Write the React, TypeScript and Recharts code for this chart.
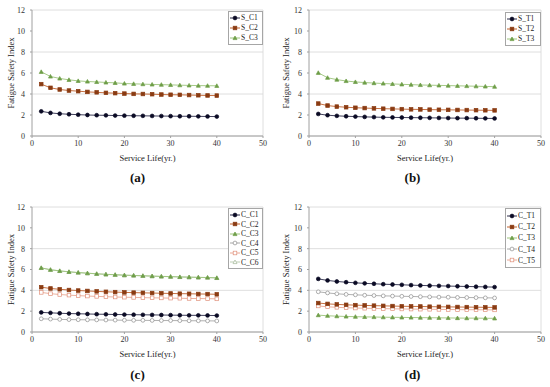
import { CartesianGrid, Legend, Line, LineChart, ReferenceLine, XAxis, YAxis } from 'recharts';

// Service life (yr.) — shared x values for every panel
const YEARS = [2, 4, 6, 8, 10, 12, 14, 16, 18, 20, 22, 24, 26, 28, 30, 32, 34, 36, 38, 40];
const X_TICKS = [0, 10, 20, 30, 40, 50];
const Y_TICKS = [0, 2, 4, 6, 8, 10, 12];

// (a) steel, compression
const S_C1 = [2.35, 2.2, 2.12, 2.07, 2.03, 2.0, 1.98, 1.97, 1.95, 1.94, 1.93, 1.92, 1.91, 1.9, 1.89, 1.88, 1.88, 1.87, 1.86, 1.85];
const S_C2 = [4.94, 4.59, 4.43, 4.33, 4.27, 4.2, 4.16, 4.11, 4.08, 4.04, 4.01, 4.0, 3.98, 3.95, 3.93, 3.92, 3.9, 3.88, 3.86, 3.85];
const S_C3 = [6.11, 5.67, 5.48, 5.35, 5.25, 5.19, 5.15, 5.1, 5.06, 5.0, 4.97, 4.94, 4.91, 4.89, 4.87, 4.84, 4.82, 4.8, 4.79, 4.78];

// (b) steel, tension
const S_T1 = [2.1, 1.98, 1.92, 1.88, 1.85, 1.82, 1.8, 1.78, 1.77, 1.76, 1.75, 1.74, 1.73, 1.72, 1.71, 1.7, 1.7, 1.69, 1.68, 1.67];
const S_T2 = [3.09, 2.9, 2.8, 2.74, 2.69, 2.66, 2.63, 2.6, 2.58, 2.56, 2.54, 2.53, 2.51, 2.5, 2.49, 2.48, 2.47, 2.46, 2.45, 2.44];
const S_T3 = [6.02, 5.55, 5.37, 5.24, 5.15, 5.09, 5.04, 5.0, 4.96, 4.92, 4.89, 4.86, 4.84, 4.82, 4.8, 4.78, 4.76, 4.74, 4.72, 4.7];

// (c) concrete, compression
const C_C1 = [1.88, 1.84, 1.8, 1.77, 1.75, 1.73, 1.71, 1.7, 1.68, 1.67, 1.66, 1.65, 1.64, 1.63, 1.62, 1.61, 1.6, 1.6, 1.59, 1.58];
const C_C2 = [4.3, 4.18, 4.1, 4.03, 3.98, 3.94, 3.9, 3.86, 3.83, 3.8, 3.78, 3.76, 3.74, 3.72, 3.7, 3.68, 3.67, 3.65, 3.64, 3.62];
const C_C3 = [6.16, 5.98, 5.87, 5.78, 5.71, 5.65, 5.59, 5.54, 5.5, 5.46, 5.43, 5.4, 5.37, 5.34, 5.32, 5.29, 5.27, 5.25, 5.23, 5.2];
const C_C4 = [1.27, 1.24, 1.21, 1.19, 1.18, 1.17, 1.16, 1.15, 1.14, 1.13, 1.12, 1.12, 1.11, 1.1, 1.1, 1.09, 1.08, 1.08, 1.07, 1.06];
const C_C5 = [3.8, 3.68, 3.6, 3.54, 3.49, 3.45, 3.42, 3.39, 3.36, 3.34, 3.32, 3.3, 3.28, 3.27, 3.25, 3.24, 3.22, 3.21, 3.2, 3.18];
const C_C6 = [6.15, 5.97, 5.86, 5.77, 5.7, 5.64, 5.58, 5.53, 5.49, 5.45, 5.42, 5.39, 5.36, 5.33, 5.31, 5.28, 5.26, 5.24, 5.22, 5.19];

// (d) concrete, tension
const C_T1 = [5.1, 4.95, 4.85, 4.78, 4.72, 4.67, 4.63, 4.59, 4.56, 4.53, 4.5, 4.47, 4.45, 4.43, 4.41, 4.39, 4.37, 4.35, 4.33, 4.31];
const C_T2 = [2.78, 2.7, 2.65, 2.61, 2.58, 2.55, 2.53, 2.51, 2.49, 2.47, 2.46, 2.45, 2.43, 2.42, 2.41, 2.4, 2.39, 2.38, 2.37, 2.36];
const C_T3 = [1.62, 1.56, 1.52, 1.49, 1.47, 1.45, 1.44, 1.42, 1.41, 1.4, 1.39, 1.38, 1.37, 1.36, 1.35, 1.34, 1.33, 1.33, 1.32, 1.31];
const C_T4 = [3.86, 3.75, 3.67, 3.61, 3.57, 3.53, 3.5, 3.47, 3.45, 3.43, 3.41, 3.39, 3.37, 3.35, 3.34, 3.32, 3.31, 3.3, 3.28, 3.27];
const C_T5 = [2.5, 2.42, 2.37, 2.33, 2.3, 2.28, 2.26, 2.24, 2.23, 2.21, 2.2, 2.19, 2.18, 2.17, 2.16, 2.15, 2.14, 2.14, 2.13, 2.12];

const FONT = "'Liberation Serif', 'DejaVu Serif', serif";

type Shape = 'circle' | 'square' | 'triangle';

interface Series {
  name: string;
  values: number[];
  shape: Shape;
  /** marker fill; white for the hollow ones */
  fill: string;
  /** marker edge */
  edge: string;
  /** connecting line */
  line: string;
  size: number;
}

// Excel-ish default styles, reused across panels
const dark = (name: string, values: number[]): Series => ({ name, values, shape: 'circle', fill: '#0a0a24', edge: '#0a0a24', line: '#2a2a48', size: 1.9 });
const brown = (name: string, values: number[]): Series => ({ name, values, shape: 'square', fill: '#8a3b12', edge: '#8a3b12', line: '#c0602c', size: 1.8 });
const green = (name: string, values: number[]): Series => ({ name, values, shape: 'triangle', fill: '#6e9e48', edge: '#6e9e48', line: '#9cc47a', size: 2 });
const hollowCircle = (name: string, values: number[]): Series => ({ name, values, shape: 'circle', fill: '#ffffff', edge: '#8c8c8c', line: '#a8a8a8', size: 1.9 });
const hollowSquare = (name: string, values: number[]): Series => ({ name, values, shape: 'square', fill: '#ffffff', edge: '#e0907a', line: '#eaa894', size: 1.8 });
const hollowTriangle = (name: string, values: number[]): Series => ({ name, values, shape: 'triangle', fill: '#ffffff', edge: '#a3b899', line: '#bccdb3', size: 2 });

interface Panel {
  caption: string;
  left: number;
  top: number;
  height: number;
  margin: { top: number; right: number; left: number; bottom: number };
  yAxisWidth: number;
  legendPos: { left: number; top: number; width: number; rowH: number };
  series: Series[];
}

const PANELS: Panel[] = [
  {
    caption: '(a)', left: 0, top: 0, height: 195,
    margin: { top: 10, right: 12, left: 0, bottom: 29 }, yAxisWidth: 32,
    legendPos: { left: 228, top: 11, width: 35, rowH: 10 },
    series: [dark('S_C1', S_C1), brown('S_C2', S_C2), green('S_C3', S_C3)],
  },
  {
    caption: '(b)', left: 275, top: 0, height: 195,
    margin: { top: 10, right: 9, left: 0, bottom: 29 }, yAxisWidth: 34,
    legendPos: { left: 230, top: 12, width: 36, rowH: 10 },
    series: [dark('S_T1', S_T1), brown('S_T2', S_T2), green('S_T3', S_T3)],
  },
  {
    caption: '(c)', left: 0, top: 195, height: 192,
    margin: { top: 12, right: 12, left: 0, bottom: 25 }, yAxisWidth: 32,
    legendPos: { left: 228, top: 13, width: 35, rowH: 9.5 },
    series: [
      dark('C_C1', C_C1), brown('C_C2', C_C2), green('C_C3', C_C3),
      hollowCircle('C_C4', C_C4), hollowSquare('C_C5', C_C5), hollowTriangle('C_C6', C_C6),
    ],
  },
  {
    caption: '(d)', left: 275, top: 195, height: 192,
    margin: { top: 12, right: 9, left: 0, bottom: 25 }, yAxisWidth: 34,
    legendPos: { left: 230, top: 13, width: 36, rowH: 11.2 },
    series: [
      dark('C_T1', C_T1), brown('C_T2', C_T2), green('C_T3', C_T3),
      hollowCircle('C_T4', C_T4), hollowSquare('C_T5', C_T5),
    ],
  },
];

function Marker({ cx, cy, s }: { cx: number; cy: number; s: Series }) {
  const r = s.size;
  if (s.shape === 'square') {
    return <rect x={cx - r} y={cy - r} width={r * 2} height={r * 2} fill={s.fill} stroke={s.edge} strokeWidth={0.7} />;
  }
  if (s.shape === 'triangle') {
    const pts = `${cx},${cy - r} ${cx + r},${cy + r * 0.8} ${cx - r},${cy + r * 0.8}`;
    return <polygon points={pts} fill={s.fill} stroke={s.edge} strokeWidth={0.7} />;
  }
  return <circle cx={cx} cy={cy} r={r} fill={s.fill} stroke={s.edge} strokeWidth={0.7} />;
}

function LegendBox({ series, rowH, width }: { series: Series[]; rowH: number; width: number }) {
  return (
    <div style={{ boxSizing: 'border-box', width, border: '1px solid #a6a6a6', background: '#fff', padding: '1px 0 1px 1px', overflow: 'hidden' }}>
      {series.map((s) => (
        <div key={s.name} style={{ display: 'flex', alignItems: 'center', height: rowH, fontFamily: FONT, fontSize: 7.5, lineHeight: `${rowH}px`, color: '#222' }}>
          <svg width={10} height={8} style={{ flex: 'none' }}>
            <line x1={0} y1={4} x2={10} y2={4} stroke={s.line} strokeWidth={1} />
            <Marker cx={5} cy={4} s={s} />
          </svg>
          <span style={{ marginLeft: 1, whiteSpace: 'nowrap' }}>{s.name}</span>
        </div>
      ))}
    </div>
  );
}

function FatiguePanel({ p }: { p: Panel }) {
  const data = YEARS.map((yr, i) => {
    const row: Record<string, number> = { yr };
    p.series.forEach((s) => {
      row[s.name] = s.values[i];
    });
    return row;
  });
  const tick = { fontFamily: FONT, fontSize: 8, fill: '#333', style: { fontFamily: FONT } };
  // draw first-listed series last so it sits on top (C_C3 covers C_C6)
  const drawOrder = [...p.series].reverse();
  return (
    <div style={{ position: 'absolute', left: p.left, top: p.top, width: 275, height: p.height, fontFamily: FONT }}>
      <LineChart width={275} height={p.height} data={data} margin={p.margin} style={{ fontFamily: FONT }}>
        <CartesianGrid vertical={false} stroke="#d6d6d6" strokeWidth={0.8} />
        <ReferenceLine x={50} stroke="#d6d6d6" strokeWidth={0.8} />
        <XAxis
          dataKey="yr"
          type="number"
          domain={[0, 50]}
          ticks={X_TICKS}
          height={30}
          tick={tick}
          tickSize={2}
          tickMargin={2}
          axisLine={{ stroke: '#a0a0a0' }}
          tickLine={{ stroke: '#a0a0a0' }}
          label={{ value: 'Service Life(yr.)', position: 'insideBottom', offset: 5, style: { fontFamily: FONT, fontSize: 8.5, fill: '#222' } }}
        />
        <YAxis
          type="number"
          domain={[0, 12]}
          ticks={Y_TICKS}
          width={p.yAxisWidth}
          tick={tick}
          tickSize={2}
          tickMargin={5}
          axisLine={{ stroke: '#a0a0a0' }}
          tickLine={{ stroke: '#a0a0a0' }}
          label={{ value: 'Fatigue Safety Index', angle: -90, position: 'insideLeft', offset: 11, style: { textAnchor: 'middle', fontFamily: FONT, fontSize: 8.5, fill: '#222' } }}
        />
        <Legend
          layout="vertical"
          align="center"
          verticalAlign="middle"
          wrapperStyle={{ left: p.legendPos.left, top: p.legendPos.top, width: p.legendPos.width, right: 'auto', bottom: 'auto', margin: 0, padding: 0 }}
          content={() => <LegendBox series={p.series} rowH={p.legendPos.rowH} width={p.legendPos.width} />}
        />
        {drawOrder.map((s) => (
          <Line
            key={s.name}
            dataKey={s.name}
            name={s.name}
            type="linear"
            stroke={s.line}
            strokeWidth={0.9}
            dot={(d: any) => <Marker key={`${s.name}-${d.index}`} cx={d.cx} cy={d.cy} s={s} />}
            activeDot={false}
            isAnimationActive={false}
          />
        ))}
      </LineChart>
      <div
        style={{
          position: 'absolute', left: 0, width: 275, textAlign: 'center',
          top: p.top === 0 ? 170 : 172, fontFamily: FONT, fontWeight: 'bold', fontSize: 13, color: '#111',
        }}
      >
        {p.caption}
      </div>
    </div>
  );
}

export default function App() {
  return (
    <div style={{ position: 'absolute', left: 0, top: 0, width: 550, height: 387, background: '#fff', overflow: 'hidden' }}>
      {PANELS.map((p) => (
        <FatiguePanel key={p.caption} p={p} />
      ))}
    </div>
  );
}
